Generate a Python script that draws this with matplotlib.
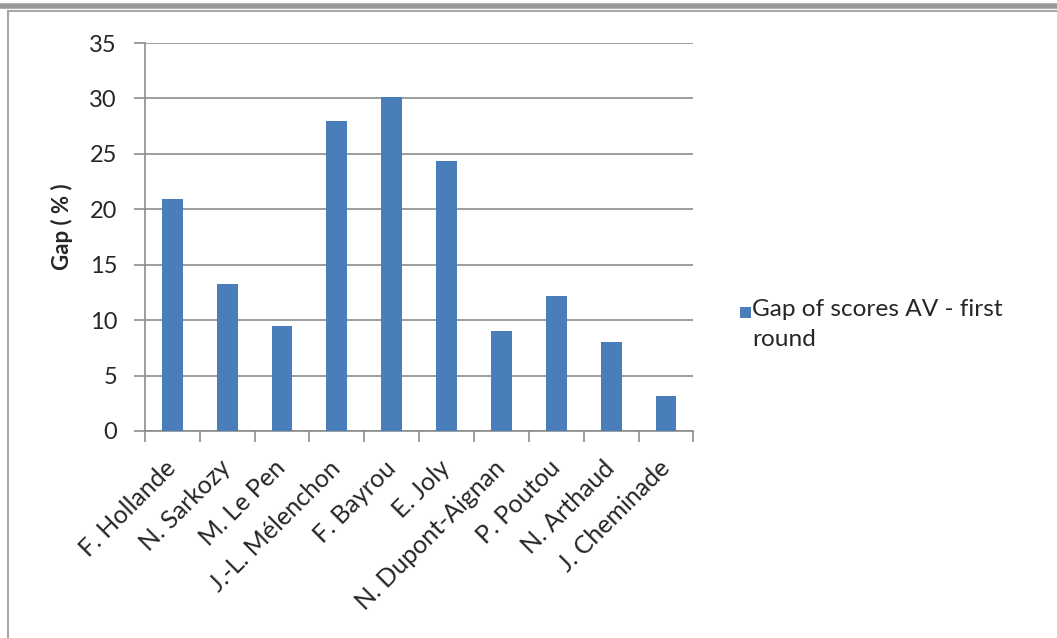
import matplotlib
matplotlib.use('Agg')
import matplotlib.pyplot as plt
from matplotlib.lines import Line2D
from matplotlib.patches import Rectangle
import numpy as np

# candidates and gap values (%)
candidates = ['F. Hollande', 'N. Sarkozy', 'M. Le Pen', 'J.-L. Mélenchon', 'F. Bayrou',
              'E. Joly', 'N. Dupont-Aignan', 'P. Poutou', 'N. Arthaud', 'J. Cheminade']
gap = [20.9, 13.3, 9.5, 28.0, 30.1, 24.4, 9.0, 12.2, 8.0, 3.2]
series_name = 'Gap of scores AV - first\nround'
yticks = [0, 5, 10, 15, 20, 25, 30, 35]

bar_color = '#4A7EBB'
grid_color = '#8C8C8C'
text_color = '#262626'

plt.rcParams['font.family'] = ['Lato', 'DejaVu Sans']

fig = plt.figure(figsize=(10.57, 6.38), dpi=100)
ax = fig.add_axes([0.137, 0.3245, 0.519, 0.608])

x = np.arange(len(candidates))
ax.bar(x, gap, width=0.38, color=bar_color, zorder=3)

ax.set_xlim(-0.5, len(candidates) - 0.5)
ax.set_ylim(0, 35)
ax.set_yticks(yticks)
ax.yaxis.grid(True, color=grid_color, linewidth=1.2, zorder=0)
ax.set_axisbelow(True)

# category boundary ticks like Excel
ax.set_xticks(np.arange(-0.5, len(candidates), 1.0))
ax.set_xticklabels([])
ax.set_xticks(x, minor=True)
ax.set_xticklabels(candidates, minor=True, rotation=45, ha='right', va='center',
                   rotation_mode='anchor', fontsize=18, color=text_color)
ax.tick_params(axis='x', which='minor', length=0, pad=24)
ax.tick_params(axis='x', which='major', length=8, width=1.2, color=grid_color)
ax.tick_params(axis='y', length=8, width=1.2, color=grid_color, labelsize=17,
               labelcolor=text_color, pad=12)

for s in ['top', 'right']:
    ax.spines[s].set_visible(False)
for s in ['left', 'bottom']:
    ax.spines[s].set_color(grid_color)
    ax.spines[s].set_linewidth(1.2)

ax.set_ylabel('Gap ( % )', fontsize=16, fontweight='bold', color=text_color)
ax.yaxis.set_label_coords(-0.131, 0.527)

# legend, Excel style: key aligned with the first text line
fig.add_artist(Rectangle((0.7005, 0.5015), 0.0100, 0.0175, transform=fig.transFigure,
                         facecolor=bar_color, edgecolor='none'))
fig.text(0.7115, 0.531, series_name, ha='left', va='top', fontsize=17.6,
         color=text_color, linespacing=1.5)

# window-like frame at the top and left
fig.add_artist(Line2D([0, 1], [0.9905, 0.9905], transform=fig.transFigure, color='#9A9A9A', linewidth=4))
fig.add_artist(Line2D([0.0076, 1], [0.9825, 0.9825], transform=fig.transFigure, color='#A8A8A8', linewidth=1.5))
fig.add_artist(Line2D([0.0076, 0.0076], [0, 0.9825], transform=fig.transFigure, color='#A8A8A8', linewidth=1.5))

plt.savefig('out.png', dpi=100)
